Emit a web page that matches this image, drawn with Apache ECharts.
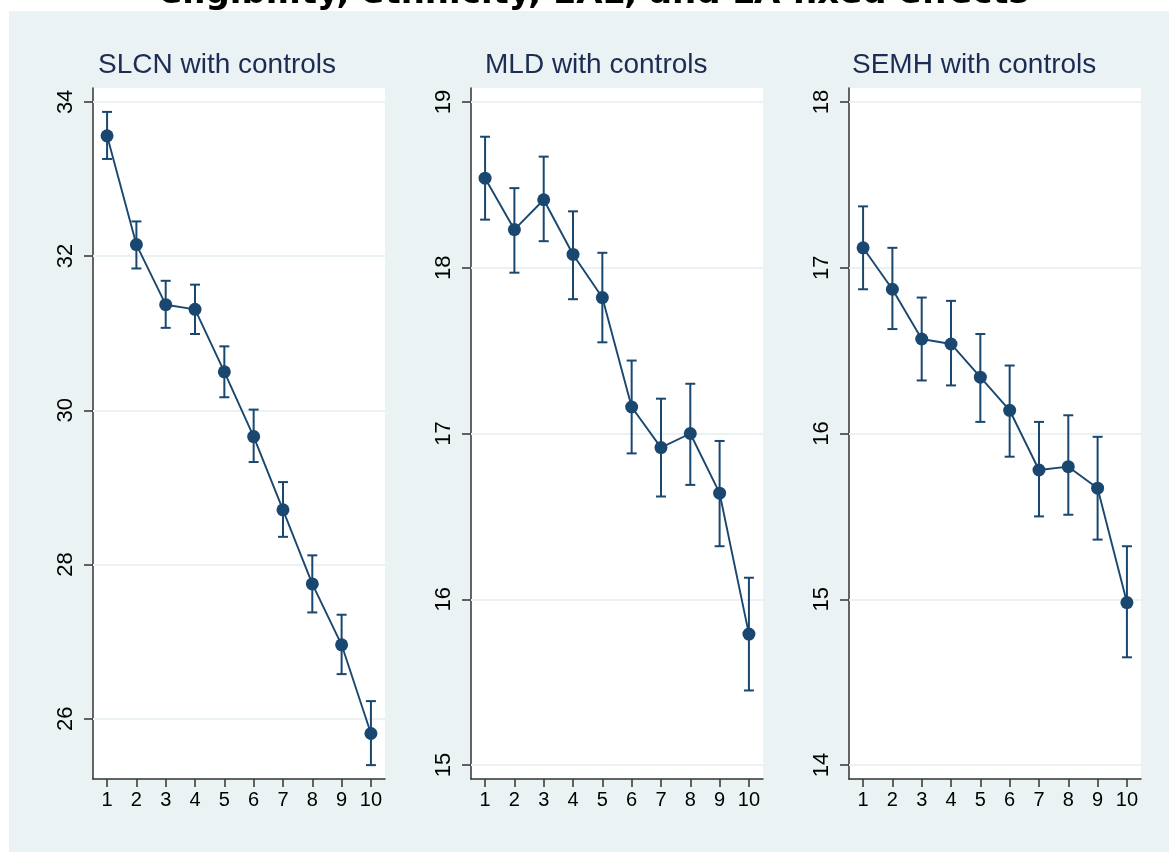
<!DOCTYPE html>
<html>
<head>
<meta charset="utf-8">
<script src="https://cdn.jsdelivr.net/npm/echarts@6/dist/echarts.min.js"></script>
<style>
  html, body { margin: 0; padding: 0; background: #fff; }
  #chart { width: 1169px; height: 852px; }
</style>
</head>
<body>
<div id="chart"></div>
<script>
const xTicks = [1, 2, 3, 4, 5, 6, 7, 8, 9, 10]

const panelTitles = ['SLCN with controls', 'MLD with controls', 'SEMH with controls']
const mainTitle = 'eligibility, ethnicity, EAL, and LA fixed effects'

const slcnTicks = [26, 28, 30, 32, 34]
const slcnMean = [33.56, 32.15, 31.37, 31.31, 30.50, 29.66, 28.71, 27.75, 26.96, 25.81]
const slcnLow = [33.26, 31.84, 31.07, 30.99, 30.17, 29.33, 28.36, 27.38, 26.58, 25.40]
const slcnHigh = [33.87, 32.45, 31.68, 31.63, 30.83, 30.01, 29.07, 28.12, 27.35, 26.23]

const mldTicks = [15, 16, 17, 18, 19]
const mldMean = [18.54, 18.23, 18.41, 18.08, 17.82, 17.16, 16.915, 17.00, 16.64, 15.79]
const mldLow = [18.29, 17.97, 18.16, 17.81, 17.55, 16.88, 16.62, 16.69, 16.32, 15.45]
const mldHigh = [18.79, 18.48, 18.67, 18.34, 18.09, 17.44, 17.21, 17.30, 16.955, 16.13]

const semhTicks = [14, 15, 16, 17, 18]
const semhMean = [17.12, 16.87, 16.57, 16.54, 16.34, 16.14, 15.78, 15.80, 15.67, 14.98]
const semhLow = [16.87, 16.63, 16.32, 16.29, 16.07, 15.86, 15.50, 15.51, 15.36, 14.65]
const semhHigh = [17.37, 17.12, 16.82, 16.80, 16.60, 16.41, 16.07, 16.11, 15.98, 15.32]

const navy = '#1a476f'
const bg = '#eaf2f3'
const font = '"Liberation Sans", Arial, sans-serif'

// plot areas, axis ranges
const panels = [
  { left: 93, min: 25.22, max: 34.18, ticks: slcnTicks, mean: slcnMean, low: slcnLow, high: slcnHigh, tx: 98 },
  { left: 471, min: 14.916, max: 19.084, ticks: mldTicks, mean: mldMean, low: mldLow, high: mldHigh, tx: 485 },
  { left: 849, min: 13.916, max: 18.084, ticks: semhTicks, mean: semhMean, low: semhLow, high: semhHigh, tx: 852 },
]

var chart = echarts.init(document.getElementById('chart'), null, { renderer: 'canvas' })

function errorBar(params, api) {
  const x = api.value(0)
  const top = api.coord([x, api.value(2)])
  const bot = api.coord([x, api.value(1)])
  const w = 5
  const style = { stroke: navy, lineWidth: 2 }
  return {
    type: 'group',
    children: [
      { type: 'line', shape: { x1: top[0], y1: top[1], x2: bot[0], y2: bot[1] }, style },
      { type: 'line', shape: { x1: top[0] - w, y1: top[1], x2: top[0] + w, y2: top[1] }, style },
      { type: 'line', shape: { x1: bot[0] - w, y1: bot[1], x2: bot[0] + w, y2: bot[1] }, style },
    ]
  }
}

const grid = [], xAxis = [], yAxis = [], series = [], graphic = []

graphic.push({
  type: 'rect', z: -100, silent: true,
  shape: { x: 9, y: 11, width: 1160, height: 841 },
  style: { fill: bg }
})
graphic.push({
  type: 'text', x: 594, y: -6, silent: true,
  style: {
    text: mainTitle, fill: '#000', align: 'center', verticalAlign: 'middle',
    font: 'bold 34px "DejaVu Sans", sans-serif'
  }
})

panels.forEach((p, i) => {
  grid.push({
    left: p.left, top: 88, width: 292, height: 691,
    show: true, backgroundColor: '#fff', borderWidth: 0
  })
  xAxis.push({
    type: 'value', gridIndex: i, min: 0.52, max: 10.48,
    axisLine: { lineStyle: { color: '#333', width: 1.5 } },
    axisTick: { customValues: xTicks, length: 8, lineStyle: { color: '#333', width: 1.5 } },
    axisLabel: { customValues: xTicks, margin: 11, color: '#000', fontSize: 20, fontFamily: font },
    splitLine: { show: false }
  })
  yAxis.push({
    type: 'value', gridIndex: i, min: p.min, max: p.max,
    axisLine: { show: true, lineStyle: { color: '#333', width: 1.5 } },
    axisTick: { show: true, customValues: p.ticks, length: 9, lineStyle: { color: '#333', width: 1.5 } },
    axisLabel: { customValues: p.ticks, rotate: 90, margin: 16, color: '#000', fontSize: 22, fontFamily: font },
    splitLine: { show: false }
  })
  // gridlines
  series.push({
    type: 'line', xAxisIndex: i, yAxisIndex: i, data: [], z: 1, silent: true,
    markLine: {
      z: 1, silent: true, symbol: 'none', label: { show: false },
      lineStyle: { color: bg, width: 2, type: 'solid' },
      data: p.ticks.map(v => ({ yAxis: v }))
    }
  })
  series.push({
    type: 'custom', xAxisIndex: i, yAxisIndex: i, z: 2,
    renderItem: errorBar,
    data: xTicks.map((x, k) => [x, p.low[k], p.high[k]])
  })
  series.push({
    type: 'line', xAxisIndex: i, yAxisIndex: i, z: 3,
    data: xTicks.map((x, k) => [x, p.mean[k]]),
    symbol: 'circle', symbolSize: 13,
    itemStyle: { color: navy },
    lineStyle: { color: navy, width: 1.9 }
  })
  graphic.push({
    type: 'text', x: p.tx, y: 65, silent: true,
    style: {
      text: panelTitles[i], fill: '#1c2c54', align: 'left', verticalAlign: 'middle',
      font: '28px ' + font
    }
  })
})

var option = {
  backgroundColor: '#fff',
  animation: false,
  grid,
  xAxis,
  yAxis,
  series,
  graphic
}

option && chart.setOption(option)
</script>
</body>
</html>
